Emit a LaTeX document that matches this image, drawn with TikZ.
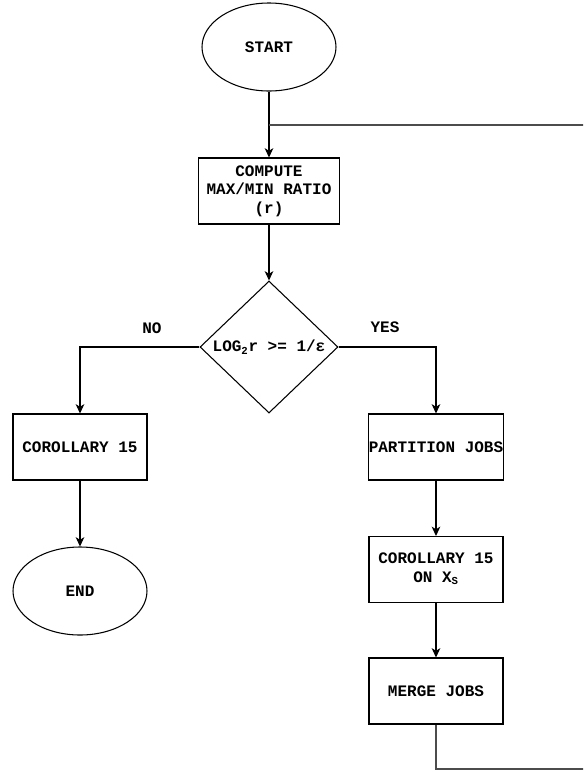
\documentclass[tikz,border=0pt]{standalone}
\usepackage{fontspec}
\setmonofont{Liberation Mono}
\usepackage{tikz}
\usetikzlibrary{shapes.geometric,arrows.meta}

\tikzset{
  every node/.style={font=\ttfamily\bfseries\fontsize{12}{14}\selectfont},
  box/.style={draw,rectangle,inner sep=0pt,minimum width=100.5pt,minimum height=49.5pt},
  terminal/.style={draw,ellipse,inner sep=0pt,minimum width=100.5pt,minimum height=66pt},
  test/.style={draw,diamond,inner sep=0pt,minimum width=103.5pt,minimum height=99pt},
  flow/.style={-{Stealth[length=7pt,width=6.5pt,inset=2pt]}},
  loopline/.style={black!70}
}

\begin{document}
\begin{tikzpicture}[x=0.75pt,y=-0.75pt,line width=0.8pt]
%\draw (0,0) grid[step=50] (583,772);
\useasboundingbox (0,0) rectangle (583,772);
\clip (0,0) rectangle (583,772);

\node [terminal] (start) at (269,47) {START};
\node [box] (compute) at (269,191) {\begin{tabular}{c}COMPUTE\\ MAX/MIN RATIO\\ (r)\end{tabular}};
\node [test] (check) at (269,347) {LOG\textsubscript{2}r >= 1/ε};

\node [box] (corollary) at (80,447) {COROLLARY 15};
\node [terminal] (end) at (80,591) {END};

\node [box] (partition) at (436,447) {PARTITION JOBS};
\node [box] (corxs) at (436,569.5) {\begin{tabular}{c}COROLLARY 15\\ ON X\textsubscript{S}\end{tabular}};
\node [box] (merge) at (436,691) {MERGE JOBS};

\node (no) at (152,328) {NO};
\node (yes) at (385,327) {YES};

\coordinate (join) at (269,125);
\coordinate (corner) at (600,769);

\draw [flow] (start) -- (compute);
\draw [flow] (compute) -- (check);
\draw [flow] (check.west) -| (corollary.north);
\draw [flow] (corollary) -- (end);
\draw [flow] (check.east) -| (partition.north);
\draw [flow] (partition) -- (corxs);
\draw [flow] (corxs) -- (merge);

% back to the ratio step
\draw [loopline] (merge.south) |- (corner) |- (join);
\end{tikzpicture}
\end{document}
